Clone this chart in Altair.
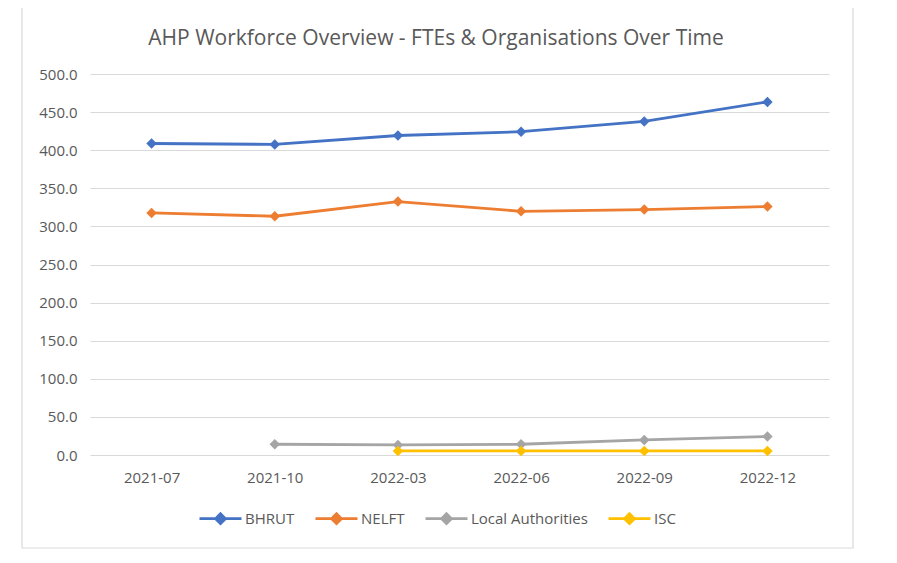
import altair as alt
import pandas as pd

periods = ["2021-07", "2021-10", "2022-03", "2022-06", "2022-09", "2022-12"]
bhrut = [408.8, 407.6, 419.3, 424.3, 437.8, 463.4]
nelft = [317.7, 313.3, 332.6, 319.8, 322.1, 326.1]
local_auth = [None, 14.1, 13.2, 14.1, 19.8, 24.2]
isc = [None, None, 5.3, 5.3, 5.3, 5.3]
series = ["BHRUT", "NELFT", "Local Authorities", "ISC"]
colors = ["#4472C4", "#ED7D31", "#A5A5A5", "#FFC000"]
y_ticks = [0, 50, 100, 150, 200, 250, 300, 350, 400, 450, 500]
title_text = "AHP Workforce Overview - FTEs & Organisations Over Time"

rows = []
for name, vals in zip(series, [bhrut, nelft, local_auth, isc]):
    for i, (p, v) in enumerate(zip(periods, vals)):
        if v is not None:
            rows.append({"Series": name, "Period": p, "idx": i, "FTE": v})
df = pd.DataFrame(rows)

FONT = "Open Sans"
GREY = "#595959"
FS = 15

color_scale = alt.Scale(domain=series, range=colors)

x_enc = alt.X("Period:N", sort=periods,
              scale=alt.Scale(type="point", padding=0.5),
              axis=alt.Axis(title=None, labelAngle=0, domain=False, ticks=False,
                            grid=False, labelPadding=15, labelFont=FONT,
                            labelFontSize=FS, labelColor=GREY))
y_enc = alt.Y("FTE:Q", scale=alt.Scale(domain=[0, 500], nice=False),
              axis=alt.Axis(title=None, values=y_ticks, format=".1f", domain=False,
                            ticks=False, grid=True, gridColor="#D9D9D9", gridWidth=1,
                            labelPadding=13, labelFont=FONT, labelFontSize=FS,
                            labelColor=GREY))

legend = alt.Legend(orient="none", legendX=108, legendY=422, direction="horizontal",
                    title=None,
                    symbolType="M-1,0L1,0M0,-0.24L0.24,0L0,0.24L-0.24,0Z",
                    symbolSize=1764, symbolStrokeWidth=2.6,
                    labelFont=FONT, labelFontSize=FS, labelColor=GREY,
                    labelOffset=2, columnPadding=15)

one = pd.DataFrame({"t": [title_text]})
border = alt.Chart(one).mark_rect(
    fill=None, stroke="#D9D9D9", strokeWidth=1.2
).encode(x=alt.value(-68), x2=alt.value(763), y=alt.value(-69), y2=alt.value(474))

title = alt.Chart(one).mark_text(
    font=FONT, fontSize=21, color=GREY, align="center", baseline="middle"
).encode(text="t:N", x=alt.value(346), y=alt.value(-35))

lines = alt.Chart(df).mark_line(strokeWidth=2.8).encode(
    x=x_enc, y=y_enc,
    color=alt.Color("Series:N", scale=color_scale, legend=legend),
    order=alt.Order("idx:Q"),
)
points = alt.Chart(df).mark_point(shape="diamond", filled=True, size=110, opacity=1).encode(
    x=x_enc, y=y_enc,
    color=alt.Color("Series:N", scale=color_scale, legend=legend),
)

chart = alt.layer(border, title, lines, points).properties(
    width=739, height=381,
    autosize=alt.AutoSizeParams(type="none"),
    padding={"left": 82, "top": 66, "right": 60, "bottom": 96},
    background="white",
).configure_view(stroke=None)

chart.save("out.html", embed_options={"renderer": "svg", "actions": False})
